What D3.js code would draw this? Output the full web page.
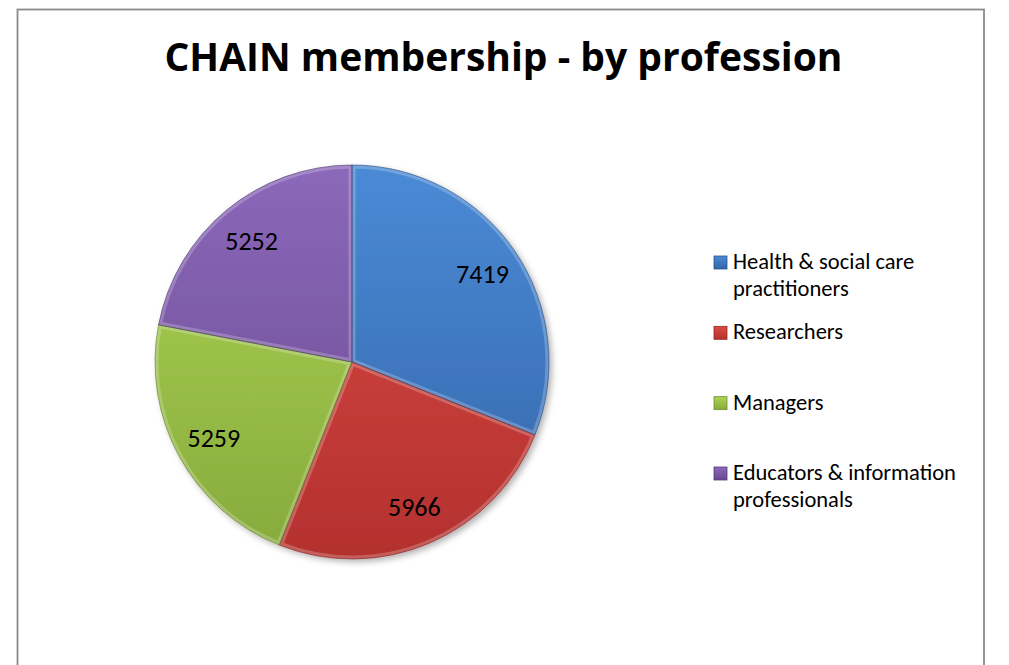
<!DOCTYPE html>
<html>
<head>
<meta charset="utf-8">
<script src="https://cdn.jsdelivr.net/npm/d3@7"></script>
<style>
  body { margin: 0; background: #fff; }
  svg { display: block; font-family: Carlito, Lato, "Open Sans", sans-serif; }
</style>
</head>
<body>
<div id="chart"></div>
<script>
// chart data
var categories = ["Health & social care practitioners", "Researchers", "Managers", "Educators & information professionals"];
var values = [7419, 5966, 5259, 5252];
var colorsTop = ["#4a8ad6", "#dc4a45", "#aed454", "#8c68ba"];
var colorsBottom = ["#3565a8", "#b3312e", "#86aa3c", "#67498f"];
var title = "CHAIN membership - by profession";

var W = 1009, H = 665;

var svg = d3.select("#chart").append("svg")
    .attr("width", W)
    .attr("height", H);

var defs = svg.append("defs");

// outer chart border (bottom runs off the page)
svg.append("rect")
    .attr("x", 17.5).attr("y", 9.5)
    .attr("width", 966.5).attr("height", 720)
    .attr("fill", "#fff")
    .attr("stroke", "#8a8a8a")
    .attr("stroke-width", 1.8);

svg.append("text")
    .attr("x", 503.5)
    .attr("y", 71)
    .attr("text-anchor", "middle")
    .style("font-family", "'Open Sans', sans-serif")
    .style("font-size", "39px")
    .style("font-weight", "bold")
    .attr("fill", "#000")
    .text(title);

var cx = 352, cy = 362, radius = 197;

var shadow = defs.append("filter").attr("id", "shadow")
    .attr("x", "-10%").attr("y", "-10%").attr("width", "130%").attr("height", "130%");
shadow.append("feDropShadow")
    .attr("dx", 3).attr("dy", 3)
    .attr("stdDeviation", 3)
    .attr("flood-color", "#000")
    .attr("flood-opacity", 0.3);

// vertical gradients for the bevelled look
categories.forEach(function(c, i) {
  var g = defs.append("linearGradient")
      .attr("id", "grad" + i)
      .attr("gradientUnits", "userSpaceOnUse")
      .attr("x1", 0).attr("y1", -radius)
      .attr("x2", 0).attr("y2", radius);
  g.append("stop").attr("offset", "0%").attr("stop-color", colorsTop[i]);
  g.append("stop").attr("offset", "100%").attr("stop-color", colorsBottom[i]);
});

var pie = d3.pie().sort(null).value(function(d) { return d; });
var arc = d3.arc().innerRadius(0).outerRadius(radius);
var labelArc = d3.arc().innerRadius(radius * 0.8).outerRadius(radius * 0.8);

var arcs = pie(values);

var vis = svg.append("g")
    .attr("transform", "translate(" + cx + "," + cy + ")");

var slices = vis.append("g").attr("filter", "url(#shadow)");

arcs.forEach(function(d, i) {
  defs.append("clipPath").attr("id", "clip" + i)
    .append("path").attr("d", arc(d));
});

slices.selectAll("path.slice")
    .data(arcs)
    .enter().append("path")
    .attr("class", "slice")
    .attr("d", arc)
    .attr("fill", function(d, i) { return "url(#grad" + i + ")"; });

// light bevel band inside each slice edge
vis.selectAll("path.bevel")
    .data(arcs)
    .enter().append("path")
    .attr("class", "bevel")
    .attr("d", arc)
    .attr("fill", "none")
    .attr("stroke", "#fff")
    .attr("stroke-opacity", 0.22)
    .attr("stroke-width", 7)
    .attr("clip-path", function(d, i) { return "url(#clip" + i + ")"; });

vis.selectAll("path.edge")
    .data(arcs)
    .enter().append("path")
    .attr("class", "edge")
    .attr("d", arc)
    .attr("fill", "none")
    .attr("stroke", function(d, i) { return d3.color(colorsBottom[i]).darker(0.8); })
    .attr("stroke-opacity", 0.6)
    .attr("stroke-width", 1);

vis.selectAll("text.val")
    .data(arcs)
    .enter().append("text")
    .attr("class", "val")
    .attr("transform", function(d) { return "translate(" + labelArc.centroid(d) + ")"; })
    .attr("text-anchor", "middle")
    .attr("dy", "0.35em")
    .style("font-size", "26px")
    .attr("fill", "#000")
    .text(function(d) { return d.data; });

// legend
var legend = svg.append("g").attr("transform", "translate(714,0)");
var rowY = d3.scalePoint().domain(d3.range(categories.length)).range([269, 480]);

categories.forEach(function(c, i) {
  var y = rowY(i);
  var mg = defs.append("linearGradient").attr("id", "lg" + i)
      .attr("x1", 0).attr("y1", 0).attr("x2", 0).attr("y2", 1);
  mg.append("stop").attr("offset", "0%").attr("stop-color", colorsTop[i]);
  mg.append("stop").attr("offset", "100%").attr("stop-color", colorsBottom[i]);
  legend.append("rect")
      .attr("x", 0).attr("y", y - 13)
      .attr("width", 13).attr("height", 13)
      .attr("fill", "url(#lg" + i + ")")
      .attr("stroke", d3.color(colorsBottom[i]).darker(0.5))
      .attr("stroke-width", 0.8);

  var t = legend.append("text")
      .attr("x", 19).attr("y", y)
      .style("font-size", "22.5px")
      .attr("fill", "#000");

  // wrap words into lines
  var words = c.split(" "), line = [];
  var tspan = t.append("tspan").attr("x", 19).attr("dy", 0);
  words.forEach(function(w) {
    line.push(w);
    tspan.text(line.join(" "));
    if (tspan.node().getComputedTextLength() > 240 && line.length > 1) {
      line.pop();
      tspan.text(line.join(" "));
      line = [w];
      tspan = t.append("tspan").attr("x", 19).attr("dy", 27).text(w);
    }
  });
});
</script>
</body>
</html>
